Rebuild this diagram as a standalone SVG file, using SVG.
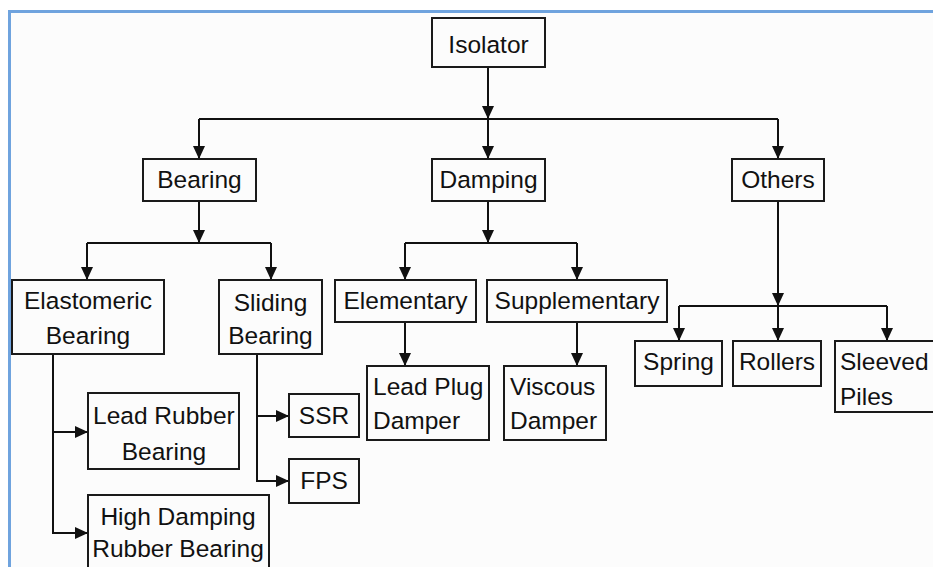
<svg xmlns="http://www.w3.org/2000/svg" width="933" height="567" viewBox="0 0 933 567">
<style>
.box{fill:none;stroke:#1a1a1a;stroke-width:2}
.t{font-family:"Liberation Sans",Arial,sans-serif;font-size:24.5px;fill:#111}
.c{text-anchor:middle}
.ln{fill:none;stroke:#111;stroke-width:2}
.ar{marker-end:url(#ah)}
</style>
<defs>
<marker id="ah" markerUnits="userSpaceOnUse" markerWidth="13" markerHeight="12" refX="13" refY="6" orient="auto">
<path d="M0,0 L13,6 L0,12 z" fill="#111"/>
</marker>
</defs>
<rect x="0" y="0" width="933" height="567" fill="#ffffff"/>
<rect x="9.5" y="11.5" width="940" height="570" fill="#fcfcfc" stroke="#6fa3de" stroke-width="3"/>
<g id="connectors">
<path class="ln ar" d="M488,67 V119"/>
<path class="ln" d="M199,119 H778"/>
<path class="ln ar" d="M199,119 V159"/>
<path class="ln ar" d="M488,119 V159"/>
<path class="ln ar" d="M778,119 V159"/>
<path class="ln ar" d="M199,201 V243"/>
<path class="ln" d="M87,243 H271"/>
<path class="ln ar" d="M87,243 V280"/>
<path class="ln ar" d="M271,243 V280"/>
<path class="ln ar" d="M488,201 V243"/>
<path class="ln" d="M405,243 H577"/>
<path class="ln ar" d="M405,243 V280"/>
<path class="ln ar" d="M577,243 V280"/>
<path class="ln ar" d="M778,201 V306"/>
<path class="ln" d="M679,306 H887"/>
<path class="ln ar" d="M679,306 V341"/>
<path class="ln ar" d="M778,306 V341"/>
<path class="ln ar" d="M887,306 V341"/>
<path class="ln ar" d="M405,322 V366"/>
<path class="ln ar" d="M577,322 V366"/>
<path class="ln ar" d="M53,354 V533 H88"/>
<path class="ln ar" d="M53,432 H88"/>
<path class="ln ar" d="M257,354 V481 H289"/>
<path class="ln ar" d="M257,416 H289"/>
</g>
<g id="isolator"><rect class="box" x="432" y="18" width="113" height="49"/><text class="t c" x="488.5" y="53">Isolator</text></g>
<g id="bearing"><rect class="box" x="143" y="159" width="113" height="42"/><text class="t c" x="199.5" y="188">Bearing</text></g>
<g id="damping"><rect class="box" x="432" y="159" width="113" height="42"/><text class="t c" x="488.5" y="188">Damping</text></g>
<g id="others"><rect class="box" x="732" y="159" width="92" height="42"/><text class="t c" x="778" y="188">Others</text></g>
<g id="elastomeric"><rect class="box" x="12" y="280" width="152" height="74"/><text class="t c" x="88" y="309">Elastomeric</text><text class="t c" x="88" y="344">Bearing</text></g>
<g id="sliding"><rect class="box" x="219" y="280" width="103" height="74"/><text class="t c" x="270.5" y="311">Sliding</text><text class="t c" x="270.5" y="344">Bearing</text></g>
<g id="elementary"><rect class="box" x="335" y="280" width="141" height="42"/><text class="t c" x="405.5" y="309">Elementary</text></g>
<g id="supplementary"><rect class="box" x="487" y="280" width="180" height="42"/><text class="t c" x="577" y="309">Supplementary</text></g>
<g id="leadplug"><rect class="box" x="367" y="366" width="122" height="74"/><text class="t" x="373" y="395">Lead Plug</text><text class="t" x="373" y="429">Damper</text></g>
<g id="viscous"><rect class="box" x="504" y="366" width="102" height="74"/><text class="t" x="510" y="395">Viscous</text><text class="t" x="510" y="429">Damper</text></g>
<g id="spring"><rect class="box" x="635" y="341" width="87" height="45"/><text class="t c" x="678.5" y="370">Spring</text></g>
<g id="rollers"><rect class="box" x="733" y="341" width="88" height="45"/><text class="t c" x="777" y="370">Rollers</text></g>
<g id="sleeved"><rect class="box" x="835" y="341" width="110" height="71"/><text class="t" x="840" y="370">Sleeved</text><text class="t" x="840" y="405">Piles</text></g>
<g id="leadrubber"><rect class="box" x="88" y="393" width="151" height="76"/><text class="t" x="93" y="424">Lead Rubber</text><text class="t c" x="164" y="460">Bearing</text></g>
<g id="ssr"><rect class="box" x="289" y="394" width="70" height="43"/><text class="t c" x="324" y="424">SSR</text></g>
<g id="fps"><rect class="box" x="289" y="459" width="70" height="44"/><text class="t c" x="324" y="489">FPS</text></g>
<g id="highdamping"><rect class="box" x="88" y="495" width="181" height="80"/><text class="t c" x="178" y="525">High Damping</text><text class="t c" x="178" y="557">Rubber Bearing</text></g>
</svg>
